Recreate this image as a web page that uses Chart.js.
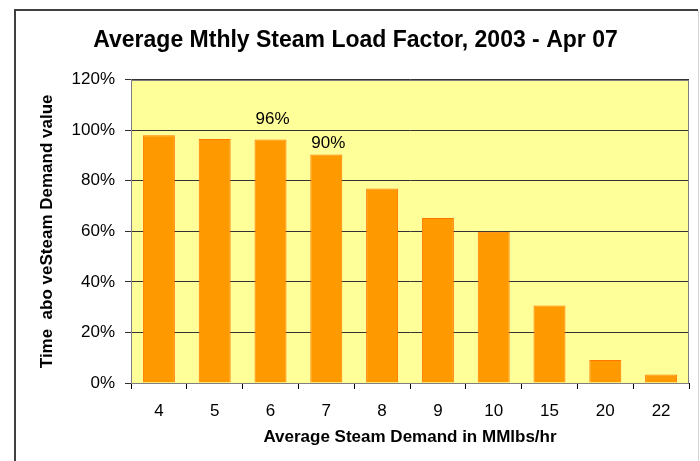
<!DOCTYPE html>
<html>
<head>
<meta charset="utf-8">
<script src="https://cdn.jsdelivr.net/npm/chart.js@4/dist/chart.umd.min.js"></script>
<style>
  html, body { margin: 0; padding: 0; background: #fff; }
  #wrap { width: 700px; height: 461px; position: relative; }
</style>
</head>
<body>
<div id="wrap"><canvas id="c" width="700" height="461"></canvas></div>
<script>
const categories = ['4', '5', '6', '7', '8', '9', '10', '15', '20', '22'];
const loadFactor = [98.0, 96.5, 96.3, 90.4, 77.0, 65.3, 59.8, 30.7, 9.1, 3.4];
const yTicks = [0, 20, 40, 60, 80, 100, 120];
const labelledBars = [2, 3];

const FONT = "'Liberation Sans', Arial, sans-serif";

const framePlugin = {
  id: 'frame',
  beforeDraw(chart) {
    const ctx = chart.ctx;
    const a = chart.chartArea;
    ctx.save();
    ctx.fillStyle = '#ffffff';
    ctx.fillRect(0, 0, chart.width, chart.height);
    ctx.strokeStyle = '#404040';
    ctx.lineWidth = 2;
    ctx.beginPath();
    ctx.moveTo(15, chart.height);
    ctx.lineTo(15, 10);
    ctx.lineTo(698, 10);
    ctx.stroke();
    ctx.strokeStyle = '#d4d4d4';
    ctx.lineWidth = 1;
    ctx.beginPath();
    ctx.moveTo(698.5, 10);
    ctx.lineTo(698.5, chart.height);
    ctx.stroke();
    ctx.fillStyle = '#FFFF99';
    ctx.fillRect(a.left, a.top, a.right - a.left, a.bottom - a.top);
    ctx.restore();
  },
  afterDraw(chart) {
    const ctx = chart.ctx;
    const a = chart.chartArea;
    ctx.save();
    ctx.strokeStyle = '#808080';
    ctx.lineWidth = 1;
    ctx.strokeRect(Math.round(a.left) + 0.5, Math.round(a.top) + 0.5,
                   Math.round(a.right - a.left) - 1, Math.round(a.bottom - a.top));
    const meta = chart.getDatasetMeta(0);
    const offsets = { 2: 15, 3: 6 };
    ctx.fillStyle = '#000';
    ctx.font = '17px ' + FONT;
    ctx.textAlign = 'center';
    ctx.textBaseline = 'bottom';
    labelledBars.forEach(i => {
      const el = meta.data[i];
      const v = chart.data.datasets[0].data[i];
      ctx.fillText(Math.round(v) + '%', el.x + 2, el.y - (offsets[i] || 6) + 3);
    });
    ctx.restore();
  }
};

new Chart(document.getElementById('c'), {
  type: 'bar',
  data: {
    labels: categories,
    datasets: [{
      data: loadFactor,
      backgroundColor: '#FF9900',
      borderColor: '#FF7700',
      borderWidth: 1,
      barPercentage: 0.573,
      categoryPercentage: 1.0
    }]
  },
  options: {
    responsive: false,
    animation: false,
    layout: { padding: { left: 22, right: 11, top: 0, bottom: 0 } },
    plugins: {
      legend: { display: false },
      tooltip: { enabled: false },
      title: {
        display: true,
        text: 'Average Mthly Steam Load Factor, 2003 - Apr 07',
        color: '#000',
        font: { family: FONT, size: 23, weight: 'bold', lineHeight: 1.2 },
        padding: { top: 27.2, bottom: 24.9 }
      }
    },
    scales: {
      x: {
        grid: { display: true, drawOnChartArea: false, drawTicks: true, tickLength: 6, color: '#000', offset: true },
        border: { display: true, color: '#000' },
        ticks: { color: '#000', font: { family: FONT, size: 17 }, padding: 12, maxRotation: 0 },
        title: {
          display: true,
          text: 'Average Steam Demand in MMlbs/hr',
          color: '#000',
          font: { family: FONT, size: 17, weight: 'bold', lineHeight: 1.2 },
          padding: { top: 0, bottom: 13 }
        },
        afterFit(s) { s.height = 78; }
      },
      y: {
        min: 0,
        max: 120,
        afterBuildTicks(s) { s.ticks = yTicks.map(v => ({ value: v })); },
        grid: { color: '#333', lineWidth: 1, drawTicks: true, tickLength: 6 },
        border: { display: true, color: '#808080' },
        ticks: { color: '#000', font: { family: FONT, size: 17 }, padding: 10, callback: v => v + '%' },
        title: {
          display: true,
          text: 'Time  abo veSteam Demand value',
          color: '#000',
          font: { family: FONT, size: 17, weight: 'bold', lineHeight: 1.2 },
          padding: { top: 15, bottom: 0 }
        },
        afterFit(s) { s.width = 109; }
      }
    }
  },
  plugins: [framePlugin]
});
</script>
</body>
</html>
